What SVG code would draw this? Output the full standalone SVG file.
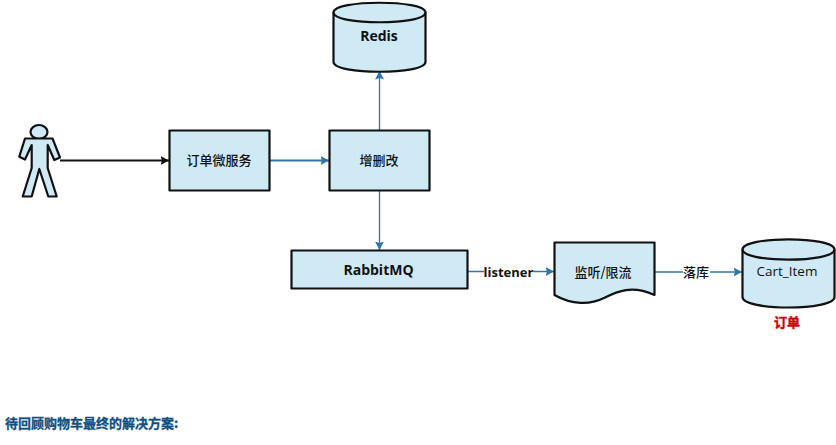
<svg xmlns="http://www.w3.org/2000/svg" width="836" height="445" viewBox="0 0 836 445">
<style>
.s{fill:#cfe9f5;stroke:#111;stroke-width:2.2;stroke-linejoin:round}
.t{font-family:"Open Sans","Noto Sans CJK SC",sans-serif;font-size:14px;font-weight:700;fill:#111;text-anchor:middle}
.c{font-family:"Noto Sans CJK SC",sans-serif;font-size:13px;font-weight:500;fill:#111;text-anchor:middle}
.l{fill:none;stroke:#2f75a8;stroke-width:1.3}
</style>
<defs>
<marker id="b" markerWidth="9" markerHeight="10" refX="8.500" refY="5" orient="auto" markerUnits="userSpaceOnUse"><path d="M0 0.500L8.500 5L0 9.500L1.500 5Z" fill="#2f75a8"/></marker>
<marker id="k" markerWidth="9" markerHeight="10" refX="8.500" refY="5" orient="auto" markerUnits="userSpaceOnUse"><path d="M0 0.500L8.500 5L0 9.500L1.500 5Z" fill="#111"/></marker>
</defs>
<g id="connectors">
<path d="M60 160.500H169" fill="none" stroke="#111" stroke-width="2.200" marker-end="url(#k)"/>
<path class="l" style="stroke-width:2.200" d="M269 160.500H329" marker-end="url(#b)"/>
<path class="l" d="M379.500 130V71" marker-end="url(#b)"/>
<path class="l" d="M379.500 190V250" marker-end="url(#b)"/>
<path class="l" d="M467 271.500H554" marker-end="url(#b)"/>
<path class="l" d="M655 272H742" marker-end="url(#b)"/>
</g>
<g id="person">
<ellipse class="s" cx="39" cy="132" rx="8.500" ry="7"/>
<path class="s" d="M25 138.500L52.500 138.500L60 157.500L54.300 160L47.700 145L47.700 168L56.700 196.500L48.300 196.500L39.300 169L31.700 196.500L22.700 196.500L31.700 168L31.700 145L25 159.500L19.300 156.700Z"/>
</g>
<g id="order-service">
<rect class="s" x="169.500" y="130.500" width="100" height="60"/>
<text class="c" x="219" y="165">订单微服务</text>
</g>
<g id="crud">
<rect class="s" x="329.500" y="130.500" width="100" height="60"/>
<text class="c" x="379" y="165">增删改</text>
</g>
<g id="redis">
<path class="s" d="M333.500 12.500C333.500 -0.500 425.500 -0.500 425.500 12.500V62C425.500 75 333.500 75 333.500 62Z"/>
<path class="s" style="fill:none" d="M333.500 12.500C333.500 25.500 425.500 25.500 425.500 12.500"/>
<text class="t" x="379" y="41">Redis</text>
</g>
<g id="rabbitmq">
<rect class="s" x="291.500" y="250.500" width="176" height="38"/>
<text class="t" x="378.500" y="274.500">RabbitMQ</text>
</g>
<g id="listener-label">
<rect x="484" y="264" width="49" height="16" fill="#fff"/>
<text class="t" style="font-size:13px" x="508.500" y="277">listener</text>
</g>
<g id="monitor">
<path class="s" d="M554.500 242.500H654.500V295C632 285 618 291 604 298C590 305 572 305 554.500 295Z"/>
<text class="c" x="603" y="277">监听/限流</text>
</g>
<g id="store-label">
<rect x="683" y="264" width="27" height="16" fill="#fff"/>
<text class="c" x="696" y="277">落库</text>
</g>
<g id="cart-item">
<path class="s" d="M742.500 249.500C742.500 236 834.500 236 834.500 249.500V297C834.500 311 742.500 311 742.500 297Z"/>
<path class="s" style="fill:none" d="M742.500 249.500C742.500 263 834.500 263 834.500 249.500"/>
<text x="787" y="276" style="font-family:'Open Sans',sans-serif;font-size:13.500px;fill:#111;text-anchor:middle">Cart_Item</text>
</g>
<text x="787" y="327" style="font-family:'Noto Sans CJK SC',sans-serif;font-size:13px;font-weight:700;fill:#d00000;stroke:#d00000;stroke-width:.4;text-anchor:middle">订单</text>
<text x="5" y="428" style="font-family:'Noto Sans CJK SC',sans-serif;font-size:13px;font-weight:700;fill:#0f4f80;stroke:#0f4f80;stroke-width:.3">待回顾购物车最终的解决方案:</text>
</svg>
